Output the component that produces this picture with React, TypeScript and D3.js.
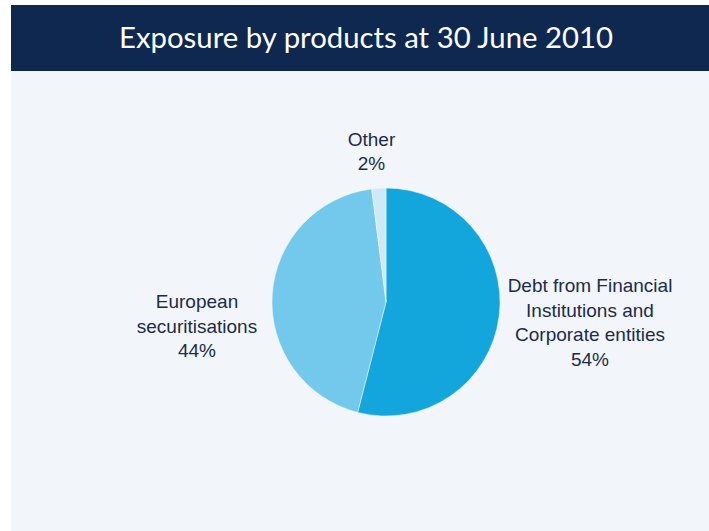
import React from "react";
import * as d3 from "d3";

const categories = ["Debt from Financial Institutions and Corporate entities", "European securitisations", "Other"];
const values = [54, 44, 2];
const labelLines = [
  ["Debt from Financial", "Institutions and", "Corporate entities", "54%"],
  ["European", "securitisations", "44%"],
  ["Other", "2%"],
];
const colors = ["#12a6dc", "#72c9eb", "#cdeaf7"];
const title = "Exposure by products at 30 June 2010";

const W = 709;
const H = 531;
const cx = 386;
const cy = 302;
const R = 114;

const labelPos = [
  { x: 590, y: 292 },
  { x: 197, y: 308 },
  { x: 371.5, y: 145.5 },
];

export default function App() {
  const pie = d3.pie<number>().sort(null).value((d) => d);
  const arcs = pie(values);
  const arc = d3.arc<d3.PieArcDatum<number>>().innerRadius(0).outerRadius(R);
  return (
    <svg width={W} height={H} style={{ position: "absolute", left: 0, top: 0 }}>
      <rect x={0} y={0} width={W} height={H} fill="#ffffff" />
      <rect x={11} y={71} width={W - 11} height={H - 71} fill="#f2f6fa" />
      <rect x={11} y={5} width={W - 11} height={66} fill="#0f284f" />
      <text
        x={366}
        y={48}
        textAnchor="middle"
        fill="#ffffff"
        fontFamily="Lato, 'Open Sans', sans-serif"
        fontSize={28.5}
        textLength={494}
        lengthAdjust="spacingAndGlyphs"
      >
        {title}
      </text>
      <g transform={`translate(${cx},${cy})`}>
        {arcs.map((a, i) => (
          <path key={categories[i]} d={arc(a) || ""} fill={colors[i]} stroke="#f2f6fa" strokeWidth={0.5} />
        ))}
      </g>
      {labelLines.map((lines, i) => (
        <text key={i} textAnchor="middle" fill="#1c2b4b" fontFamily="'Liberation Sans', Arial, sans-serif" fontSize={19}>
          {lines.map((l, j) => (
            <tspan key={j} x={labelPos[i].x} y={labelPos[i].y + j * 24.6}>
              {l}
            </tspan>
          ))}
        </text>
      ))}
    </svg>
  );
}
